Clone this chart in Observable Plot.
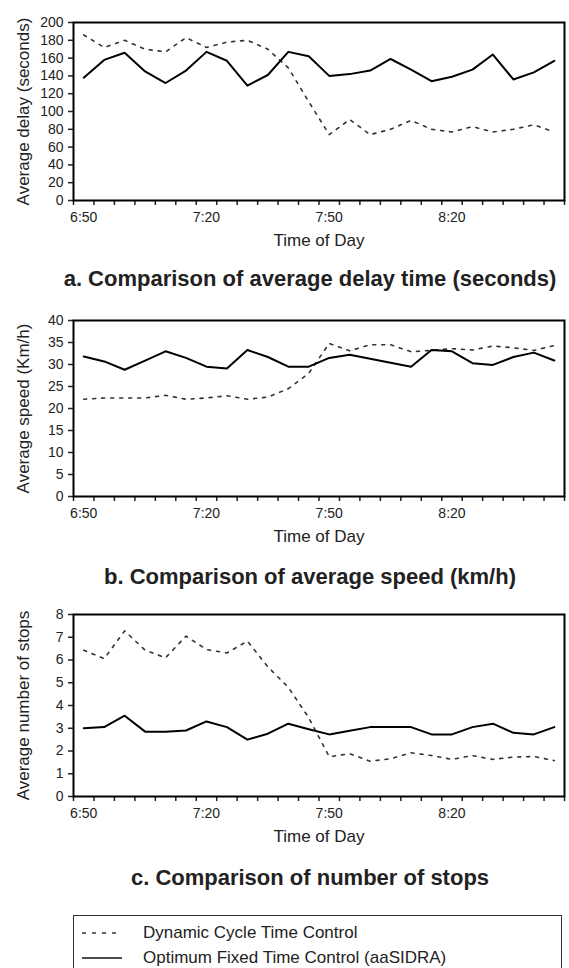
<!DOCTYPE html>
<html>
<head>
<meta charset="utf-8">
<script src="https://cdn.jsdelivr.net/npm/d3@7"></script>
<script src="https://cdn.jsdelivr.net/npm/@observablehq/plot@0.6"></script>
<style>
  body { margin: 0; background: #fff; font-family: "Liberation Sans", Arial, sans-serif; color: #222; }
  #wrap { position: relative; width: 569px; height: 968px; overflow: hidden; background: #fff; }
  .panel { position: absolute; left: 0; }
  .panel svg { overflow: visible; }
  .title { position: absolute; left: 0; width: 620px; text-align: center; font-weight: bold; font-size: 22px; line-height: 24px; color: #222; }
  #legend { position: absolute; left: 73px; top: 915px; width: 489px; height: 70px; border: 1.5px solid #333; box-sizing: border-box; }
  .lrow { position: absolute; left: 0; height: 24px; display: flex; align-items: center; font-size: 17px; color: #222; }
  .lrow svg { margin-left: 8px; margin-right: 21px; }
</style>
</head>
<body>
<div id="wrap">
  <div id="pa" class="panel" style="top:0px"></div>
  <div class="title" style="top:267px">a. Comparison of average delay time (seconds)</div>
  <div id="pb" class="panel" style="top:298px"></div>
  <div class="title" style="top:565px">b. Comparison of average speed (km/h)</div>
  <div id="pc" class="panel" style="top:592px"></div>
  <div class="title" style="top:866px">c. Comparison of number of stops</div>
  <div id="legend">
    <div class="lrow" style="top:5px">
      <svg width="40" height="4"><line x1="0" y1="2" x2="40" y2="2" stroke="#333" stroke-width="1.3" stroke-dasharray="4,6"/></svg>
      <span>Dynamic Cycle Time Control</span>
    </div>
    <div class="lrow" style="top:30px">
      <svg width="40" height="4"><line x1="0" y1="2" x2="40" y2="2" stroke="#111" stroke-width="1.5"/></svg>
      <span>Optimum Fixed Time Control (aaSIDRA)</span>
    </div>
  </div>
</div>
<script>
// Categories: 5-minute intervals from 6:50 to 8:45
const times = ["6:50","6:55","7:00","7:05","7:10","7:15","7:20","7:25","7:30","7:35","7:40","7:45",
               "7:50","7:55","8:00","8:05","8:10","8:15","8:20","8:25","8:30","8:35","8:40","8:45"];
const xTickLabels = ["6:50","7:20","7:50","8:20"];
const xLabel = "Time of Day";

// a. Average delay (seconds)
const delayDynamic = [186,172,180,170,167,183,172,178,180,170,149,111,74,91,74,80,90,80,77,83,77,80,85,77];
const delayFixed   = [138,158,166,145,132,146,167,157,129,141,167,162,140,142,146,159,147,134,139,147,164,136,144,157];
const delayTicks = [0,20,40,60,80,100,120,140,160,180,200];

// b. Average speed (km/h)
const speedDynamic = [22.1,22.4,22.4,22.4,23.0,22.1,22.4,22.9,22.1,22.6,24.5,28.0,34.8,33.1,34.5,34.5,32.9,33.2,33.6,33.3,34.2,33.8,33.2,34.3];
const speedFixed   = [31.8,30.7,28.8,30.9,33.0,31.5,29.5,29.1,33.3,31.7,29.5,29.5,31.5,32.2,31.3,30.4,29.5,33.3,33.0,30.3,29.9,31.7,32.7,30.9];
const speedTicks = [0,5,10,15,20,25,30,35,40];

// c. Average number of stops
const stopsDynamic = [6.43,6.06,7.28,6.43,6.10,7.05,6.46,6.31,6.83,5.70,4.80,3.46,1.75,1.88,1.55,1.66,1.92,1.80,1.63,1.80,1.63,1.73,1.76,1.58];
const stopsFixed   = [3.00,3.05,3.55,2.85,2.85,2.90,3.30,3.05,2.50,2.76,3.20,2.96,2.73,2.89,3.05,3.05,3.05,2.73,2.73,3.05,3.20,2.80,2.73,3.05];
const stopsTicks = [0,1,2,3,4,5,6,7,8];

const idx = times.map((t, i) => i);
const boundaries = d3.range(-0.5, times.length, 1);

function makePanel(dyn, fix, yTicks, yLabel, plotH) {
  const top = 22, bottom = 58;
  return Plot.plot({
    width: 569,
    height: top + plotH + bottom,
    marginTop: top,
    marginBottom: bottom,
    marginLeft: 73,
    marginRight: 5,
    style: { fontFamily: "'Liberation Sans', Arial, sans-serif", fontSize: "14px", color: "#222", overflow: "visible" },
    x: { type: "linear", domain: [-0.5, times.length - 0.5] },
    y: { domain: [yTicks[0], yTicks[yTicks.length - 1]] },
    marks: [
      Plot.axisY({ ticks: yTicks, tickSize: 5, tickPadding: 5, label: null, strokeWidth: 1.5, fontSize: 14 }),
      Plot.axisX({ ticks: boundaries, tickSize: 5, tickFormat: () => "", label: null, strokeWidth: 1.5 }),
      Plot.axisX({ ticks: xTickLabels.map(t => times.indexOf(t)), tickSize: 0, tickPadding: 12,
                   tickFormat: i => times[i], label: null, fontSize: 14 }),
      Plot.lineY(dyn, { x: (d, i) => idx[i], y: d => d, stroke: "#333", strokeWidth: 1.6, strokeDasharray: "3,6" }),
      Plot.lineY(fix, { x: (d, i) => idx[i], y: d => d, stroke: "#000", strokeWidth: 2 }),
      Plot.frame({ stroke: "#000", strokeWidth: 2 }),
      Plot.text([xLabel], { frameAnchor: "bottom", dy: 45, text: d => d, fontSize: 17, fill: "#222" }),
      Plot.text([yLabel], { frameAnchor: "left", dx: -50, rotate: -90, textAnchor: "middle", text: d => d, fontSize: 17, fill: "#222" })
    ]
  });
}

document.getElementById("pa").append(makePanel(delayDynamic, delayFixed, delayTicks, "Average delay (seconds)", 178));
document.getElementById("pb").append(makePanel(speedDynamic, speedFixed, speedTicks, "Average speed (Km/h)", 176));
document.getElementById("pc").append(makePanel(stopsDynamic, stopsFixed, stopsTicks, "Average number of stops", 182));
</script>
</body>
</html>
